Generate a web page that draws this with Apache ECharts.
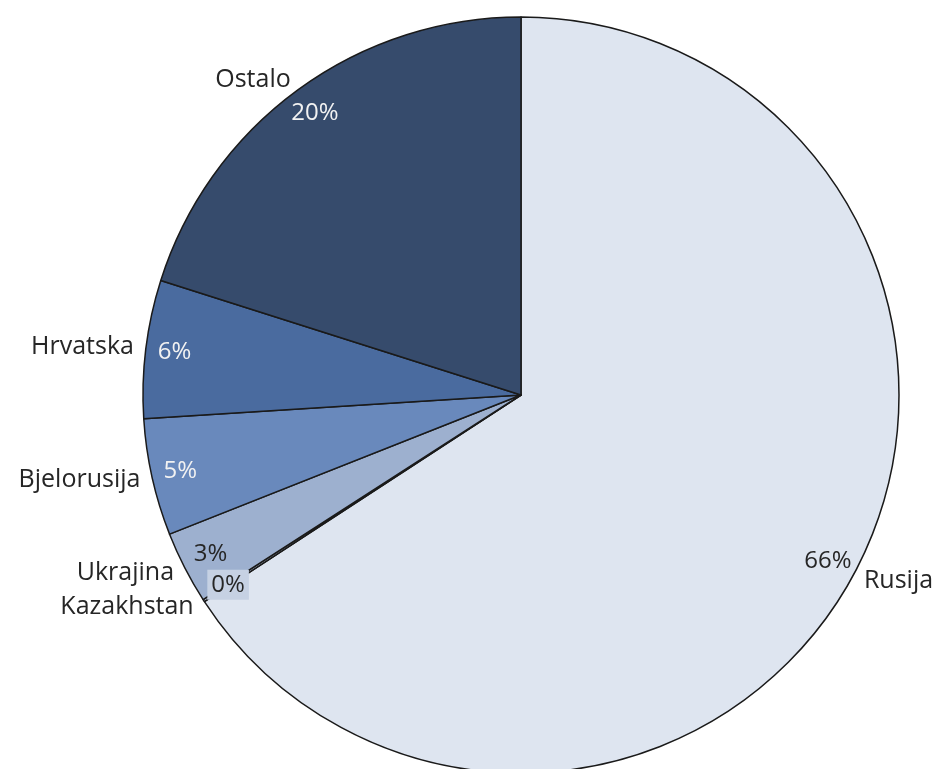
<!DOCTYPE html>
<html>
<head>
<meta charset="utf-8">
<script src="https://cdn.jsdelivr.net/npm/echarts@6/dist/echarts.min.js"></script>
<style>
  html, body { margin: 0; padding: 0; background: #fff; }
  #chart { width: 941px; height: 769px; }
</style>
</head>
<body>
<div id="chart"></div>
<script>
// podaci (udio po zemlji), redoslijed u smjeru kazaljke od vrha
const names = ['Rusija', 'Kazakhstan', 'Ukrajina', 'Bjelorusija', 'Hrvatska', 'Ostalo'];
const values = [65.8, 0.1, 3.1, 5.0, 5.9, 20.1];
const colors = ['#dee5f0', '#b9c7de', '#9db0cf', '#6989bc', '#4a6b9f', '#364b6c'];
const pctColors = ['#262626', '#262626', '#262626', '#f2f2f2', '#f2f2f2', '#f2f2f2'];

const FONT = '"Open Sans", Lato, sans-serif';
const center = [521, 395];
const R = 378;

const chart = echarts.init(document.getElementById('chart'));

const pieData = names.map((n, i) => ({
    name: n,
    value: values[i],
    itemStyle: { color: colors[i] }
}));

// postotci unutar kruga, uz rub
const pctData = names.map((n, i) => {
    const item = {
        name: n,
        value: values[i],
        label: { color: pctColors[i] }
    };
    if (n === 'Kazakhstan') {
        item.label.backgroundColor = '#c6d1e3';
        item.label.padding = [4, 4, 2, 4];
    }
    return item;
});

const options = {
    animation: false,
    series: [
        {
            type: 'pie',
            center: center,
            radius: R,
            startAngle: 90,
            clockwise: true,
            silent: true,
            label: { show: false },
            labelLine: { show: false },
            itemStyle: { borderColor: '#1a1a1a', borderWidth: 1.5 },
            data: pieData
        },
        {
            // prozirni prsten samo za oznake postotaka
            type: 'pie',
            center: center,
            radius: [314, 378],
            startAngle: 90,
            silent: true,
            z: 5,
            itemStyle: { color: 'rgba(0,0,0,0)' },
            label: {
                show: true,
                position: 'inside',
                fontFamily: FONT,
                fontSize: 24,
                formatter: (p) => Math.round(p.value) + '%'
            },
            labelLine: { show: false },
            data: pctData
        },
        {
            // nazivi izvan kruga
            type: 'pie',
            center: center,
            radius: R,
            startAngle: 90,
            silent: true,
            z: 5,
            avoidLabelOverlap: false,
            itemStyle: { color: 'rgba(0,0,0,0)' },
            label: {
                show: true,
                position: 'outside',
                fontFamily: FONT,
                fontSize: 25,
                color: '#262626',
                distanceToLabelLine: 0,
                formatter: '{b}'
            },
            labelLine: { show: false, length: 12, length2: 0 },
            data: names.map((n, i) => ({ name: n, value: values[i] }))
        }
    ]
};

chart.setOption(options);
</script>
</body>
</html>
